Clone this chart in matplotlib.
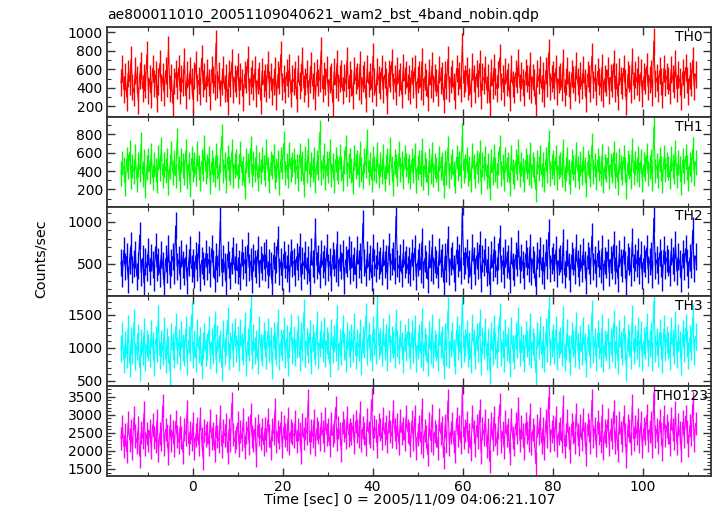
import numpy as np
import matplotlib
matplotlib.use("Agg")
import matplotlib.pyplot as plt
from matplotlib.ticker import MultipleLocator

plt.rcParams['font.family'] = ['DejaVu Sans']

title = "ae800011010_20051109040621_wam2_bst_4band_nobin.qdp"
xlabel = "Time [sec] 0 = 2005/11/09 04:06:21.107"
ylabel = "Counts/sec"
band_names = ["TH0", "TH1", "TH2", "TH3", "TH0123"]
band_colors = ["#ff0000", "#00ff00", "#0000ff", "#00ffff", "#ff00ff"]

t_start = -15.9
bin_width = 0.32

th0 = [455, 612, 380, 520, 298, 560, 470, 705, 410, 350, 590, 488, 262, 530, 640, 395, 515, 438, 760, 372,
       498, 325, 610, 452, 540, 288, 470, 665, 405, 520, 348, 585, 447, 820, 390, 510, 230, 475, 560, 430,
       615, 368, 502, 455, 690, 318, 540, 420, 585, 470, 275, 535, 650, 400, 480, 358, 720, 445, 520, 388,
       570, 462, 310, 600, 495, 410, 880, 432, 530, 345, 468, 598, 390, 515, 250, 560, 442, 675, 380, 505,
       452, 630, 372, 520, 458, 295, 548, 490, 710, 365, 482, 560, 410, 600, 338, 475, 532, 265, 580, 445,
       510, 395, 655, 440, 520, 360, 470, 590, 305, 545, 480, 760, 412, 498, 382, 565, 450, 620, 335, 500,
       468, 548, 280, 610, 425, 515, 692, 398, 472, 555, 340, 488, 640, 420, 532, 302, 570, 455, 505, 800,
       392, 530, 465, 598, 355, 488, 520, 242, 575, 438, 662, 405, 498, 560, 372, 515, 448, 700, 390, 540,
       460, 318, 585, 480, 528, 412, 655, 370, 502, 548, 290, 610, 442, 520, 395, 740, 468, 352, 580, 495,
       430, 612, 378, 540, 470, 268, 560, 505, 680, 420, 498, 365, 590, 455, 525, 330, 620, 478, 545, 410,
       505, 372, 588, 440, 615, 330, 492, 548, 410, 685, 365, 520, 458, 300, 572, 435, 640, 398, 510, 462,
       352, 595, 478, 530, 270, 545, 420, 708, 388, 495, 560, 415, 322, 610, 470, 538, 395, 850, 450, 505,
       585, 410, 472, 340, 628, 500, 385, 552, 445, 660, 312, 525, 480, 595, 378, 512, 240, 565, 430, 618,
       468, 392, 540, 725, 415, 498, 352, 582, 460, 520, 298, 605, 442, 378, 560, 485, 672, 405, 530, 455,
       345, 572, 498, 420, 640, 385, 518, 460, 222, 555, 475, 602, 398, 530, 340, 590, 452, 780, 415, 500,
       548, 430, 612, 365, 495, 522, 408, 680, 350, 470, 585, 442, 315, 560, 488, 402, 638, 470, 382, 535,
       420, 598, 462, 285, 550, 505, 398, 742, 440, 515, 362, 578, 470, 408, 625, 335, 502, 460, 592, 375,
       515, 448, 660, 392, 528, 310, 575, 482, 420, 612, 460, 255, 548, 498, 380, 690, 425, 540, 468, 598,
       402, 565, 338, 520, 475, 630, 410, 492, 560, 352, 905, 445, 508, 392, 585, 470, 325, 612, 455, 528,
       480, 372, 598, 505, 432, 665, 390, 545, 470, 308, 572, 438, 620, 485, 358, 530, 462, 700, 415, 548]

th1 = [372, 488, 415, 262, 530, 448, 605, 340, 455, 398, 560, 310, 475, 420, 690, 365, 505, 238, 442, 520,
       395, 575, 330, 468, 412, 292, 548, 430, 640, 355, 470, 402, 520, 275, 452, 598, 385, 495, 348, 740,
       428, 305, 512, 460, 385, 620, 342, 478, 255, 535, 410, 468, 372, 588, 440, 318, 502, 425, 660, 390,
       455, 540, 280, 498, 415, 362, 572, 445, 330, 515, 780, 400, 470, 298, 545, 425, 385, 610, 350, 462,
       505, 345, 450, 592, 378, 430, 225, 518, 465, 400, 648, 358, 482, 420, 550, 312, 475, 398, 530, 440,
       368, 610, 422, 300, 488, 452, 565, 338, 410, 495, 272, 528, 445, 702, 380, 462, 345, 585, 418, 470,
       520, 392, 455, 318, 575, 430, 488, 250, 540, 405, 628, 362, 470, 415, 532, 295, 498, 440, 820, 385,
       445, 568, 332, 480, 402, 612, 358, 465, 290, 525, 438, 390, 555, 425, 318, 498, 660, 372, 460, 512,
       408, 282, 545, 450, 492, 365, 595, 420, 340, 515, 462, 720, 385, 478, 305, 538, 430, 402, 580, 352,
       475, 395, 560, 320, 448, 512, 378, 640, 430, 268, 505, 455, 372, 590, 418, 485, 342, 552, 465, 408,
       452, 338, 520, 405, 575, 298, 440, 498, 370, 625, 330, 468, 412, 270, 515, 392, 580, 358, 462, 418,
       318, 540, 432, 478, 245, 492, 380, 650, 350, 448, 505, 375, 290, 552, 425, 485, 355, 790, 405, 455,
       528, 368, 425, 305, 568, 450, 345, 498, 402, 600, 280, 472, 432, 540, 340, 462, 215, 510, 388, 558,
       420, 352, 488, 662, 375, 450, 318, 525, 415, 468, 268, 548, 398, 340, 505, 438, 612, 365, 478, 410,
       310, 515, 450, 378, 580, 345, 468, 415, 200, 500, 428, 545, 358, 478, 305, 532, 408, 715, 372, 452,
       495, 388, 552, 328, 445, 472, 365, 618, 315, 422, 528, 398, 282, 505, 440, 362, 578, 425, 342, 482,
       378, 540, 418, 255, 495, 455, 358, 680, 395, 465, 325, 522, 425, 368, 565, 300, 452, 415, 535, 338,
       465, 402, 598, 352, 475, 278, 518, 435, 378, 552, 415, 230, 492, 450, 342, 630, 382, 488, 420, 540,
       362, 510, 302, 468, 428, 570, 370, 445, 505, 318, 880, 400, 458, 352, 528, 425, 292, 552, 410, 475,
       432, 335, 540, 455, 390, 605, 350, 492, 425, 275, 515, 395, 560, 438, 322, 478, 418, 640, 372, 495]

th2 = [520, 385, 660, 470, 590, 318, 545, 720, 430, 505, 612, 355, 480, 840, 402, 565, 278, 530, 455, 650,
       410, 575, 495, 340, 702, 460, 532, 392, 610, 485, 250, 560, 438, 685, 372, 515, 590, 420, 950, 475,
       548, 362, 625, 490, 415, 580, 305, 520, 672, 445, 512, 380, 598, 465, 730, 338, 545, 482, 410, 620,
       470, 555, 392, 680, 505, 325, 590, 448, 520, 1010, 402, 562, 475, 290, 615, 498, 368, 540, 655, 430,
       585, 420, 510, 348, 640, 478, 552, 395, 720, 460, 528, 312, 580, 505, 432, 668, 385, 548, 470, 598,
       455, 630, 372, 520, 485, 265, 602, 440, 555, 790, 412, 530, 358, 615, 492, 450, 572, 330, 640, 505,
       530, 395, 585, 468, 705, 350, 540, 478, 612, 420, 558, 295, 645, 502, 440, 880, 485, 560, 378, 620,
       492, 565, 410, 690, 455, 530, 342, 600, 515, 448, 735, 398, 572, 480, 620, 310, 548, 505, 670, 425,
       610, 458, 540, 375, 665, 500, 585, 432, 980, 520, 395, 612, 470, 560, 338, 690, 515, 445, 595, 488,
       538, 412, 640, 490, 568, 365, 710, 470, 525, 600, 420, 1060, 505, 448, 582, 385, 630, 495, 555, 440,
       545, 402, 632, 475, 688, 355, 520, 592, 440, 760, 380, 565, 492, 320, 618, 462, 700, 418, 548, 500,
       372, 645, 512, 575, 285, 590, 450, 790, 410, 535, 605, 445, 340, 665, 505, 582, 420, 1100, 485, 545,
       632, 438, 508, 362, 690, 540, 410, 598, 478, 725, 330, 568, 515, 645, 400, 552, 255, 610, 462, 672,
       505, 418, 585, 800, 445, 538, 375, 630, 495, 562, 315, 655, 475, 402, 605, 522, 740, 432, 572, 490,
       368, 620, 535, 450, 700, 410, 558, 495, 235, 600, 512, 655, 425, 572, 362, 640, 485, 870, 445, 540,
       592, 460, 665, 388, 532, 565, 435, 750, 372, 505, 632, 475, 335, 605, 525, 428, 695, 505, 405, 578,
       450, 648, 498, 300, 595, 545, 425, 830, 470, 555, 385, 625, 505, 435, 680, 355, 540, 495, 640, 398,
       555, 480, 725, 418, 570, 330, 622, 518, 448, 665, 495, 270, 592, 535, 405, 760, 455, 582, 502, 648,
       428, 610, 360, 562, 510, 688, 438, 530, 605, 375, 1040, 478, 548, 418, 632, 505, 345, 665, 488, 570,
       515, 395, 648, 545, 462, 730, 415, 590, 505, 325, 618, 468, 680, 522, 380, 572, 495, 900, 442, 592]

th3 = [985, 1180, 820, 1050, 905, 1290, 760, 1110, 960, 1380, 870, 1020, 1150, 695, 1080, 940, 1240, 850, 1060, 1000,
       915, 1210, 1035, 780, 1130, 990, 1450, 880, 1070, 950, 1260, 825, 1100, 980, 640, 1170, 1025, 900, 1320, 960,
       1080, 870, 1195, 1005, 935, 1280, 790, 1120, 1010, 1500, 905, 1060, 840, 1230, 975, 1110, 725, 1040, 1175, 930,
       1015, 1270, 880, 1090, 960, 1360, 815, 1140, 995, 1060, 700, 1210, 940, 1080, 1420, 870, 1030, 1165, 910, 1250,
       990, 1120, 845, 1230, 1020, 945, 1330, 770, 1095, 1005, 1600, 890, 1150, 965, 1060, 810, 1275, 1000, 925, 1190,
       1070, 880, 1240, 985, 1110, 735, 1180, 1030, 950, 1390, 865, 1085, 1010, 1260, 905, 1135, 780, 1050, 1310, 960,
       1125, 935, 1045, 1290, 860, 1180, 1000, 1540, 920, 1095, 975, 1220, 805, 1150, 1030, 940, 1350, 880, 1070, 1200,
       985, 1260, 915, 1110, 1040, 760, 1230, 975, 1140, 1005, 1440, 870, 1085, 950, 1290, 1020, 830, 1180, 1060, 920,
       1160, 990, 1320, 880, 1075, 1005, 1230, 790, 1130, 1050, 1480, 940, 1190, 1010, 860, 1270, 1095, 965, 1620, 1035,
       1090, 930, 1250, 1015, 1160, 845, 1300, 985, 1120, 1045, 900, 1380, 1070, 960, 1210, 1030, 820, 1150, 1005, 1240,
       1050, 880, 1220, 975, 1290, 830, 1030, 1150, 920, 1400, 860, 1090, 1000, 770, 1200, 955, 1310, 900, 1070, 1010,
       845, 1250, 1045, 1130, 730, 1165, 935, 1560, 900, 1060, 1180, 930, 800, 1270, 1020, 1140, 905, 1680, 990, 1080,
       1210, 920, 1030, 820, 1300, 1075, 890, 1170, 985, 1380, 790, 1110, 1040, 1250, 870, 1100, 660, 1190, 950, 1290,
       1030, 900, 1145, 1470, 935, 1065, 840, 1230, 1010, 1115, 760, 1260, 985, 880, 1190, 1050, 1420, 925, 1120, 1000,
       830, 1200, 1060, 950, 1320, 895, 1095, 1015, 620, 1180, 1035, 1270, 905, 1120, 840, 1240, 990, 1580, 940, 1070,
       1150, 960, 1280, 870, 1055, 1110, 925, 1430, 850, 1020, 1230, 985, 790, 1190, 1060, 910, 1330, 1020, 880, 1140,
       950, 1260, 1025, 760, 1160, 1080, 905, 1520, 970, 1100, 860, 1220, 1035, 920, 1300, 830, 1070, 1010, 1240, 890,
       1090, 990, 1370, 905, 1120, 810, 1210, 1045, 940, 1290, 1015, 700, 1150, 1060, 885, 1450, 955, 1135, 1030, 1260,
       920, 1200, 850, 1105, 1040, 1320, 930, 1060, 1190, 860, 1700, 995, 1090, 910, 1230, 1040, 815, 1290, 1000, 1130,
       1040, 875, 1260, 1080, 960, 1350, 900, 1160, 1050, 790, 1210, 985, 1300, 1070, 880, 1140, 1020, 1460, 950, 1170]

th0123 = [2350, 2680, 2120, 2450, 1980, 2780, 2300, 2550, 2080, 2920, 2410, 2230, 2640, 1850, 2500, 2360, 3050, 2190, 2470, 2280,
          2560, 2090, 2720, 2380, 2250, 2850, 2010, 2490, 2330, 3250, 2180, 2600, 2420, 1920, 2700, 2290, 2530, 2150, 2810, 2400,
          2240, 2650, 2370, 1960, 2580, 2460, 3100, 2200, 2520, 2310, 2760, 2060, 2440, 2620, 2170, 2900, 2340, 1800, 2560, 2430,
          2510, 2190, 2830, 2350, 2480, 2020, 2690, 2390, 2270, 2950, 2130, 2550, 2420, 2740, 1950, 2600, 2300, 3320, 2460, 2250,
          2380, 2770, 2160, 2540, 2330, 2870, 2090, 2500, 2650, 2210, 3000, 2400, 2280, 2620, 1880, 2710, 2450, 2350, 2580, 2170,
          2620, 2300, 2860, 2420, 2080, 2590, 2480, 3150, 2250, 2530, 2370, 2780, 2110, 2660, 2440, 2310, 2900, 2200, 2550, 2470,
          2410, 2800, 2260, 2580, 2470, 1970, 2720, 2350, 2610, 2490, 3380, 2240, 2560, 2400, 2850, 2180, 2620, 2500, 2330, 2750,
          2530, 2280, 2890, 2450, 2600, 2150, 2760, 2420, 2540, 3200, 2310, 2650, 2480, 2020, 2790, 2560, 2370, 2930, 2440, 2600,
          2470, 2700, 2230, 2820, 2550, 2390, 3050, 2290, 2640, 2480, 2170, 2870, 2520, 2400, 3420, 2350, 2680, 2560, 2110, 2740,
          2580, 2340, 2900, 2470, 2660, 2250, 2810, 2530, 2410, 3100, 2600, 2380, 2720, 2200, 2850, 2490, 2630, 2310, 2950, 2550,
          2480, 2150, 2820, 2330, 2950, 2060, 2450, 2680, 2240, 3150, 2120, 2570, 2400, 1900, 2760, 2290, 2990, 2200, 2530, 2420,
          2080, 2870, 2470, 2640, 1820, 2700, 2260, 3380, 2190, 2510, 2750, 2250, 1990, 2900, 2430, 2660, 2220, 3550, 2380, 2560,
          2780, 2250, 2440, 2040, 2960, 2540, 2150, 2700, 2360, 3120, 1960, 2620, 2460, 2850, 2130, 2590, 1700, 2760, 2310, 2920,
          2460, 2200, 2650, 3280, 2270, 2520, 2090, 2810, 2420, 2600, 1930, 2880, 2380, 2180, 2750, 2500, 3180, 2280, 2660, 2440,
          2060, 2760, 2500, 2300, 3000, 2200, 2580, 2420, 1650, 2700, 2470, 2900, 2220, 2630, 2080, 2830, 2400, 3480, 2290, 2540,
          2680, 2330, 2930, 2150, 2490, 2610, 2260, 3220, 2120, 2450, 2840, 2380, 1980, 2740, 2520, 2230, 3010, 2460, 2170, 2700,
          2310, 2880, 2470, 1890, 2720, 2560, 2230, 3400, 2390, 2620, 2140, 2800, 2480, 2260, 2970, 2080, 2550, 2420, 2860, 2190,
          2590, 2370, 3080, 2240, 2660, 2010, 2790, 2500, 2300, 2940, 2450, 1860, 2710, 2560, 2200, 3250, 2330, 2680, 2470, 2870,
          2250, 2780, 2110, 2620, 2490, 2990, 2290, 2540, 2770, 2120, 3600, 2400, 2600, 2230, 2830, 2480, 2050, 2950, 2420, 2690,
          2500, 2180, 2900, 2580, 2340, 3050, 2200, 2720, 2510, 2000, 2800, 2390, 2960, 2540, 2160, 2700, 2450, 3300, 2280, 2760]

band_errors = [145, 135, 160, 205, 320]

series = [th0, th1, th2, th3, th0123]
y_limits = [(86, 1057), (13, 990), (122, 1179), (420, 1785), (1305, 3795)]
y_major = [200, 200, 500, 500, 500]
y_minor = [100, 100, 100, 100, 100]
x_limits = (-19.0, 115.2)

W, H = 717, 516
fig = plt.figure(figsize=(W / 100, H / 100), dpi=100)
edges = [27, 117, 206.5, 296, 386, 476]
left_px, right_px = 107, 711
axes = []
for i in range(5):
    top, bot = edges[i], edges[i + 1]
    ax = fig.add_axes([left_px / W, 1 - bot / H, (right_px - left_px) / W, (bot - top) / H])
    axes.append(ax)

frame_color = "#333333"
for i, ax in enumerate(axes):
    y = np.asarray(series[i], dtype=float)
    t = t_start + bin_width * np.arange(len(y))
    err = band_errors[i]
    ax.vlines(t, y - err, y + err, colors=band_colors[i], lw=1.0, zorder=2)
    ax.plot(t, y, color=band_colors[i], lw=0.8, zorder=2)
    ax.set_xlim(*x_limits)
    ax.set_ylim(*y_limits[i])
    ax.xaxis.set_major_locator(MultipleLocator(20))
    ax.xaxis.set_minor_locator(MultipleLocator(10))
    ax.yaxis.set_major_locator(MultipleLocator(y_major[i]))
    ax.yaxis.set_minor_locator(MultipleLocator(y_minor[i]))
    ax.tick_params(which="both", direction="in", top=True, right=True,
                   color=frame_color, labelsize=10, pad=3)
    ax.tick_params(which="major", length=6, width=1.0)
    ax.tick_params(which="minor", length=3, width=0.8)
    for s in ax.spines.values():
        s.set_color(frame_color)
        s.set_linewidth(1.3)
        s.set_zorder(4)
    if i < 4:
        ax.tick_params(labelbottom=False)
    rx = 708 if band_names[i] == "TH0123" else 703
    ax.text((rx - left_px) / (right_px - left_px), 1 - 3 / (edges[i + 1] - edges[i]),
            band_names[i], transform=ax.transAxes, ha="right", va="top",
            fontsize=10, color="black", zorder=5)

fig.text(107 / W, 1 - 19 / H, title, ha="left", va="baseline", fontsize=10)
fig.text(410 / W, 1 - 500 / H, xlabel, ha="center", va="center", fontsize=10.3)
fig.text(41 / W, 1 - 259 / H, ylabel, ha="center", va="center", rotation=90, fontsize=10.3)

fig.savefig("out.png", dpi=100)
